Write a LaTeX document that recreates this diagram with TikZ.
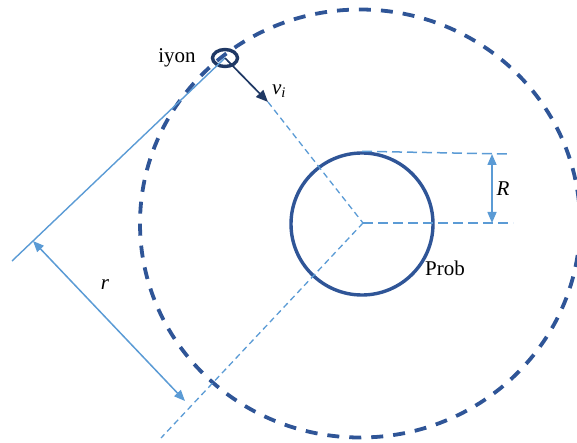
\documentclass[tikz,border=0pt]{standalone}
\usepackage{fontspec}
\setmainfont{Liberation Serif}
\usetikzlibrary{arrows.meta,shapes.geometric}
\definecolor{darkblue}{RGB}{47,85,151}
\definecolor{navy}{RGB}{31,56,100}
\definecolor{lightblue}{RGB}{91,155,213}

\begin{document}
\begin{tikzpicture}[x=1pt,y=-1pt,
  guide/.style={draw=lightblue,line width=1.3pt,dash pattern=on 6pt off 4pt},
  level/.style={draw=lightblue,line width=1.5pt,dash pattern=on 10pt off 5pt},
  dim/.style={draw=lightblue,line width=1.5pt,{Triangle[length=11pt,width=9pt]}-{Triangle[length=11pt,width=9pt]}},
  lbl/.style={font=\fontsize{21}{24}\selectfont,inner sep=0pt}]
\useasboundingbox (0,0) rectangle (577,443);

% outer dashed boundary
\draw[darkblue,line width=3.8pt,dash pattern=on 12pt off 10pt] (360,223.5) ellipse [x radius=220pt,y radius=214pt];

\coordinate (c) at (363,223);
\node[draw=darkblue,circle,line width=3.4pt,minimum size=142pt,inner sep=0pt] (prob) at (362,224) {};
\node[draw=navy,ellipse,line width=3.4pt,minimum width=25pt,minimum height=17pt,inner sep=0pt] (ion) at (225,58) {};

\coordinate (vtip) at (268,102);
\coordinate (low) at (161,438);
\coordinate (tend) at (12,261);
\coordinate (rtop) at (507,154);
\coordinate (rbot) at (513,223);
\coordinate (Rup) at (492,154);
\coordinate (Rdn) at (492,223);
\coordinate (ra) at (33,241);
\coordinate (rb) at (185,401);

% guide lines
\path[guide] (vtip) -- (c);
\path[guide] (c) -- (low);
\path[level] (prob.north) -- (rtop);
\path[level] (c) -- (rbot);
\path[draw=lightblue,line width=1.4pt] (ion.center) -- (tend);

% arrows
\path[draw=navy,line width=1.7pt,-{Triangle[length=12pt,width=10pt]}] (ion.center) -- (vtip);
\path[dim] (Rup) -- (Rdn);
\path[dim] (ra) -- (rb);

% labels
\node[lbl] (iyon) at (177,58) {iyon};
\node[lbl] (vi) at (279,91) {\textit{v\textsubscript{i}}};
\node[lbl] (rlbl) at (105,285) {\textit{r}};
\node[lbl] (Rlbl) at (503,189) {\textit{R}};
\node[lbl] (problbl) at (445,268) {Prob};
\end{tikzpicture}
\end{document}
